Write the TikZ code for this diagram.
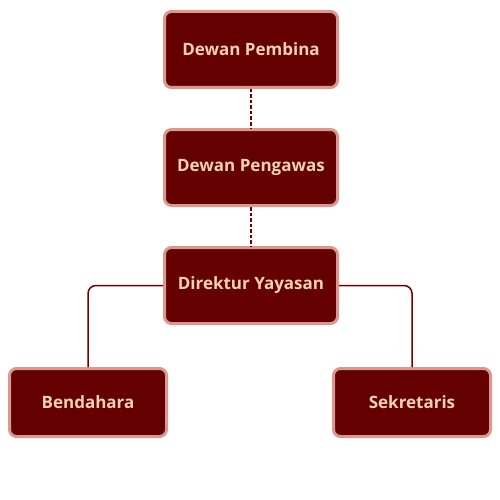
\documentclass[tikz,border=0pt]{standalone}
\usepackage{fontspec}
\setmainfont{Open Sans}
\usetikzlibrary{positioning}
\definecolor{boxfill}{RGB}{100,0,0}
\definecolor{boxrim}{RGB}{218,152,142}
\definecolor{boxtext}{RGB}{246,210,178}
\definecolor{wire}{RGB}{112,0,0}
\begin{document}
\begin{tikzpicture}[x=1pt,y=-1pt,node distance=118pt,on grid,
	office/.style={draw=boxrim,fill=boxfill,line width=3pt,rounded corners=7pt,
		minimum width=173pt,minimum height=76pt,text=boxtext,font=\bfseries\fontsize{17}{20}\selectfont},
	unit/.style={office,minimum width=157pt,minimum height=68pt},
	link/.style={draw=wire,line width=1.5pt,rounded corners=8pt}]
	\useasboundingbox (0,0) rectangle (500,500);

	\node[office] (pembina) at (251,49.5) {Dewan Pembina};
	\node[office] (pengawas) [below=of pembina] {Dewan Pengawas};
	\node[office] (direktur) [below=of pengawas] {Direktur Yayasan};
	\node[unit] (bendahara) [below left=117pt and 163pt of direktur] {Bendahara};
	\node[unit] (sekretaris) [below right=117pt and 161pt of direktur] {Sekretaris};

	\path[link,dashed,dash pattern=on 3.5pt off 2pt]
		(pembina) -- (pengawas)
		(pengawas) -- (direktur);
	\path[link] (direktur.west) -| (bendahara.north);
	\path[link] (direktur.east) -| (sekretaris.north);
\end{tikzpicture}
\end{document}
